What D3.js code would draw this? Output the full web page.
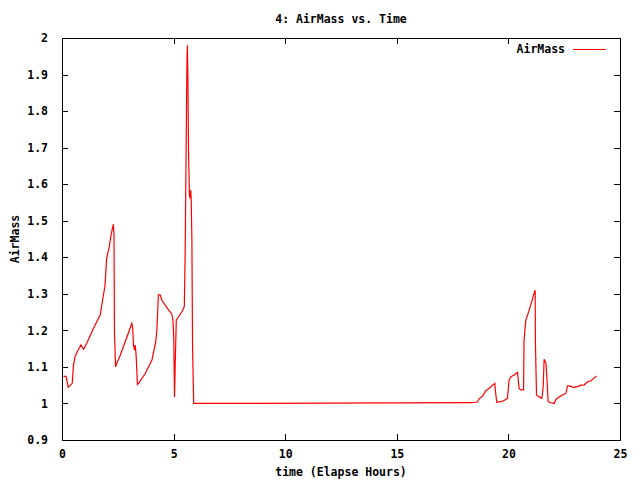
<!DOCTYPE html>
<html lang="en">
<head>
    <meta charset="utf-8" />
    <title>AirMass vs. Time</title>
    <script src="https://d3js.org/d3.v7.min.js"></script>
    <style>
        body { margin: 0; background: white; }
        svg { background-color: white; }
        text {
            font-family: 'DejaVu Sans Mono', monospace;
            font-size: 11.5px;
            font-weight: bold;
            fill: black;
        }
    </style>
</head>
<body>
    <script>

        // Elapsed hours and air mass readings
        const hours = [0.06, 0.18, 0.28, 0.46, 0.51, 0.58, 0.69, 0.85, 0.97, 1.11, 1.41, 1.71, 1.93, 2.0, 2.12, 2.18, 2.26, 2.30, 2.33, 2.35, 2.40,
            2.48, 2.57, 3.13, 3.17, 3.20, 3.25, 3.28, 3.32, 3.38, 3.43, 3.73, 4.03, 4.20, 4.25, 4.32, 4.40, 4.47, 4.77, 4.92, 4.97,
            5.01, 5.04, 5.07, 5.12, 5.37, 5.48, 5.52, 5.57, 5.60, 5.62, 5.64, 5.67, 5.71, 5.74, 5.77, 5.79, 5.82, 5.85, 5.90,
            18.36, 18.61, 18.69, 18.84, 18.99, 19.13, 19.29, 19.39, 19.43, 19.48, 19.66, 19.81, 19.96, 20.03, 20.11, 20.26, 20.41,
            20.48, 20.56, 20.68, 20.70, 20.78, 20.86, 21.0, 21.15, 21.20, 21.21, 21.26, 21.38, 21.50, 21.56, 21.60, 21.68, 21.72,
            21.78, 21.90, 22.05, 22.13, 22.28, 22.43, 22.58, 22.65, 22.72, 22.92, 23.10, 23.25, 23.40, 23.55, 23.70, 23.85, 23.95];
        const airMass = [1.074, 1.074, 1.044, 1.055, 1.103, 1.128, 1.142, 1.160, 1.148, 1.165, 1.206, 1.242, 1.324, 1.397, 1.429, 1.456, 1.479, 1.490, 1.461, 1.196, 1.100,
            1.114, 1.125, 1.219, 1.205, 1.160, 1.146, 1.160, 1.133, 1.052, 1.055, 1.082, 1.119, 1.169, 1.201, 1.297, 1.297, 1.283, 1.256, 1.245, 1.228,
            1.174, 1.018, 1.100, 1.228, 1.251, 1.265, 1.424, 1.753, 1.944, 1.980, 1.899, 1.689, 1.570, 1.561, 1.584, 1.555, 1.443, 1.151, 1.000,
            1.002, 1.004, 1.013, 1.020, 1.035, 1.041, 1.050, 1.055, 1.028, 1.003, 1.005, 1.008, 1.014, 1.064, 1.073, 1.078, 1.085,
            1.041, 1.037, 1.037, 1.174, 1.228, 1.242, 1.269, 1.301, 1.310, 1.169, 1.023, 1.018, 1.014, 1.046, 1.121, 1.111, 1.078,
            1.005, 1.002, 1.000, 1.011, 1.018, 1.023, 1.028, 1.048, 1.048, 1.044, 1.046, 1.050, 1.051, 1.059, 1.062, 1.070, 1.075];

        // Tick labels
        const xTicks = [0, 5, 10, 15, 20, 25];
        const yTicks = [0.9, 1, 1.1, 1.2, 1.3, 1.4, 1.5, 1.6, 1.7, 1.8, 1.9, 2];

        const width = 640, height = 480;
        const margin = { left: 62, right: 20, top: 38, bottom: 40 };
        const plotRight = width - margin.right;
        const plotBottom = height - margin.bottom;
        const tickLen = 6;

        const svg = d3.select("body")
            .append("svg")
            .attr("width", width)
            .attr("height", height);

        const x = d3.scaleLinear().domain([0, 25]).range([margin.left, plotRight]);
        const y = d3.scaleLinear().domain([0.9, 2]).range([plotBottom, margin.top]);

        // Axes with inward ticks on all four sides
        const fmtY = d3.format("");
        svg.append("g")
            .attr("transform", `translate(0,${plotBottom})`)
            .call(d3.axisBottom(x).tickValues(xTicks).tickSize(-tickLen).tickPadding(10).tickFormat(d3.format("d")));
        svg.append("g")
            .attr("transform", `translate(0,${margin.top})`)
            .call(d3.axisTop(x).tickValues(xTicks).tickSize(-tickLen).tickFormat(""));
        svg.append("g")
            .attr("transform", `translate(${margin.left},0)`)
            .call(d3.axisLeft(y).tickValues(yTicks).tickSize(-tickLen).tickPadding(14).tickFormat(d => fmtY(+d.toFixed(1))));
        svg.append("g")
            .attr("transform", `translate(${plotRight},0)`)
            .call(d3.axisRight(y).tickValues(yTicks).tickSize(-tickLen).tickFormat(""));

        svg.selectAll(".domain").remove();
        svg.selectAll(".tick line").attr("stroke", "black").attr("shape-rendering", "crispEdges");
        svg.selectAll(".tick text")
            .style("font-family", "'DejaVu Sans Mono', monospace")
            .style("font-size", "11.5px")
            .style("font-weight", "bold");

        // Frame
        svg.append("rect")
            .attr("x", margin.left + 0.5)
            .attr("y", margin.top + 0.5)
            .attr("width", plotRight - margin.left)
            .attr("height", plotBottom - margin.top)
            .attr("fill", "none")
            .attr("stroke", "black")
            .attr("shape-rendering", "crispEdges");

        // Data line
        const points = hours.map((h, i) => [h, airMass[i]]);
        svg.append("path")
            .datum(points)
            .attr("fill", "none")
            .attr("stroke", "#ff0000")
            .attr("stroke-width", 1.2)
            .attr("d", d3.line().x(d => x(d[0])).y(d => y(d[1])));

        // Title and axis labels
        svg.append("text")
            .attr("x", (margin.left + plotRight) / 2)
            .attr("y", 23)
            .attr("text-anchor", "middle")
            .text("4: AirMass vs. Time");

        svg.append("text")
            .attr("x", (margin.left + plotRight) / 2)
            .attr("y", 476)
            .attr("text-anchor", "middle")
            .text("time (Elapse Hours)");

        svg.append("text")
            .attr("transform", `translate(19,${(margin.top + plotBottom) / 2}) rotate(-90)`)
            .attr("text-anchor", "middle")
            .text("AirMass");

        // Legend
        svg.append("text")
            .attr("x", 565)
            .attr("y", 53)
            .attr("text-anchor", "end")
            .text("AirMass");
        svg.append("line")
            .attr("x1", 573).attr("x2", 606)
            .attr("y1", 49.5).attr("y2", 49.5)
            .attr("stroke", "#ff0000")
            .attr("stroke-width", 1);

    </script>
</body>
</html>
